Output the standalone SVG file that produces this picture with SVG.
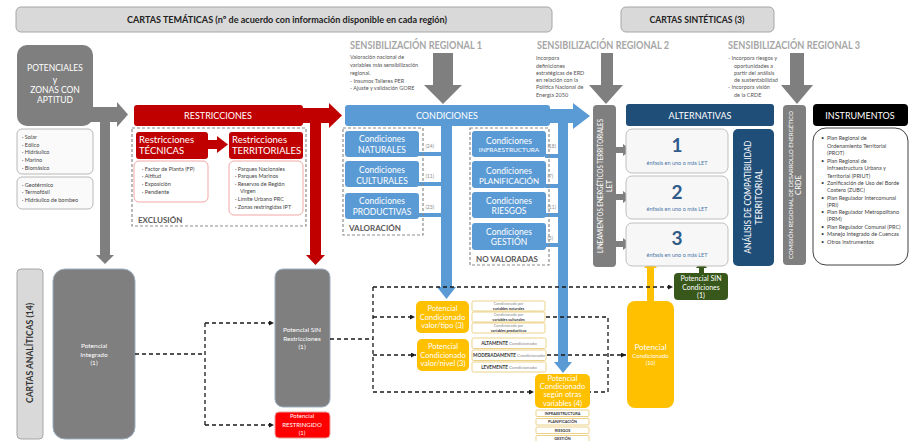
<svg xmlns="http://www.w3.org/2000/svg" width="910" height="441" viewBox="0 0 910 441">
<defs>
<style>
text{font-family:Lato,"Liberation Sans",sans-serif}
.w{fill:#fff}
.c{text-anchor:middle}
.b{font-weight:bold}
.hdr{fill:#d9d9d9;stroke:#a6a6a6;stroke-width:1}
.sens{fill:#a6a6a6;font-weight:bold;font-size:11px}
.note{fill:#555;font-size:5.5px}
.gray{fill:#7f7f7f}
.red{fill:#c00000}
.blue{fill:#5b9bd5}
.dblue{fill:#1f4e79}
.org{fill:#ffc000}
.grn{fill:#38571a}
.lst{fill:#fafafa;stroke:#a6a6a6;stroke-width:0.8}
.rlst{fill:#fff;stroke:#f4a6a6;stroke-width:1}
.olst{fill:#fff;stroke:#e6c56a;stroke-width:0.8}
.li{fill:#444;font-size:5.5px}
.dash{fill:none;stroke:#8c8c8c;stroke-width:1.2;stroke-dasharray:3 2}
.con{fill:none;stroke:#1a1a1a;stroke-width:1.3;stroke-dasharray:4 3}
.lab{fill:#595959;font-weight:bold;font-size:8px}
.cnt{fill:#8c8c8c;font-size:5px}
.alt{fill:#f7f7f7;stroke:#bfbfbf;stroke-width:1}
.num{fill:#2f5b8a;font-weight:bold;font-size:19px;text-anchor:middle}
.enf{fill:#4a76a8;font-size:5.5px;text-anchor:middle}
</style>
<marker id="ah" viewBox="0 0 6 6" refX="6" refY="3" markerWidth="5" markerHeight="5" markerUnits="userSpaceOnUse" orient="auto"><path d="M0,0 L6,3 L0,6 z" fill="#1a1a1a"/></marker>
</defs>
<rect width="910" height="441" fill="#fff"/>

<!-- headers -->
<g id="hdr-tematicas"><rect class="hdr" x="16" y="7" width="536" height="25" rx="5"/><text x="287" y="23" class="c b" font-size="10" textLength="320" lengthAdjust="spacingAndGlyphs" fill="#222">CARTAS TEMÁTICAS (nº de acuerdo con información disponible en cada región)</text></g>
<g id="hdr-sinteticas"><rect class="hdr" x="621" y="7" width="153" height="25" rx="5"/><text x="697" y="23" class="c b" font-size="10" textLength="95" lengthAdjust="spacingAndGlyphs" fill="#222">CARTAS  SINTÉTICAS (3)</text></g>

<!-- sensibilizacion -->
<g id="sens1"><text x="350" y="49" class="sens" textLength="132" lengthAdjust="spacingAndGlyphs">SENSIBILIZACIÓN REGIONAL 1</text>
<text class="note" x="350" y="59">Valoración nacional de</text><text class="note" x="350" y="67">variables más  sensibilización</text><text class="note" x="350" y="75">regional.</text><text class="note" x="350" y="83">-   Insumos Talleres PER</text><text class="note" x="350" y="90">-   Ajuste y validación GORE</text></g>
<g id="sens2"><text x="537" y="49" class="sens" textLength="132" lengthAdjust="spacingAndGlyphs">SENSIBILIZACIÓN REGIONAL 2</text>
<text class="note" x="536" y="60">Incorpora</text><text class="note" x="536" y="68">definiciones</text><text class="note" x="536" y="75">estratégicas de ERD</text><text class="note" x="536" y="82">en relación con la</text><text class="note" x="536" y="89">Política Nacional de</text><text class="note" x="536" y="97">Energía 2050</text></g>
<g id="sens3"><text x="728" y="49" class="sens" textLength="132" lengthAdjust="spacingAndGlyphs">SENSIBILIZACIÓN REGIONAL 3</text>
<text class="note" x="728" y="60">-  Incorpora riesgos y</text><text class="note" x="734" y="68">oportunidades a</text><text class="note" x="734" y="75">partir del análisis</text><text class="note" x="734" y="82">de sustentabilidad</text><text class="note" x="728" y="89">-  Incorpora visión</text><text class="note" x="734" y="97">de la CRDE</text></g>

<!-- block arrows -->
<g id="flows">
<rect class="gray" x="433" y="53" width="20" height="33"/><polygon class="gray" points="424,85 462,85 443,104"/>
<rect class="gray" x="601" y="53" width="12" height="33"/><polygon class="gray" points="589,85 623,85 606,104"/>
<rect class="gray" x="790" y="53" width="14" height="33"/><polygon class="gray" points="781,85 813,85 797,104"/>
<rect class="gray" x="88" y="107" width="30" height="15"/><polygon class="gray" points="117,102 128,114.5 117,127"/>
<rect class="gray" x="100" y="110" width="10" height="146"/><polygon class="gray" points="96,255 114,255 105,264"/>
<rect class="red" x="298" y="108" width="32" height="15"/><polygon class="red" points="329,103 342,115.5 329,128"/>
<rect class="red" x="310" y="112" width="11" height="144"/><polygon class="red" points="306,255 325,255 315.5,265"/>
<rect class="blue" x="545" y="109" width="30" height="14"/><polygon class="blue" points="573,103 590,116 573,129"/>
<rect class="blue" x="441" y="120" width="11" height="168"/><polygon class="blue" points="437,287 456,287 446.5,299"/>
<rect class="blue" x="558" y="116" width="10" height="247"/><polygon class="blue" points="554,362 572,362 563,373"/>
<rect class="blue" x="418" y="152" width="24" height="4"/><rect class="blue" x="418" y="182" width="24" height="4"/><rect class="blue" x="418" y="213" width="24" height="4"/>
<rect class="blue" x="545" y="154" width="14" height="4"/><rect class="blue" x="545" y="184" width="14" height="4"/><rect class="blue" x="545" y="213" width="14" height="4"/><rect class="blue" x="545" y="243" width="14" height="4"/>
<rect class="gray" x="615" y="147" width="9" height="6"/><polygon class="gray" points="623,144 631,150 623,156"/>
<rect class="gray" x="615" y="194" width="9" height="6"/><polygon class="gray" points="623,191 631,197 623,203"/>
<rect class="gray" x="615" y="241" width="9" height="6"/><polygon class="gray" points="623,238 631,244 623,250"/>
<rect class="org" x="647" y="266" width="7" height="36"/><polygon class="org" points="644,268 657,268 650.5,261"/>
<rect class="grn" x="699" y="266" width="5" height="8"/><polygon class="grn" points="696,268 707,268 701.5,261"/>
</g>

<!-- potenciales -->
<g id="potenciales"><rect class="gray" x="17" y="45" width="76" height="81" rx="10"/>
<text class="w c" font-size="8.5" x="55" y="71">POTENCIALES</text><text class="w c" font-size="8.5" x="55" y="83">y</text><text class="w c" font-size="8.5" x="55" y="93">ZONAS CON</text><text class="w c" font-size="8.5" x="55" y="103">APTITUD</text></g>
<g id="lista-renovables"><rect class="lst" x="17" y="129" width="76" height="45" rx="5"/>
<text class="li" x="22" y="139">·   Solar</text><text class="li" x="22" y="147">·   Eólico</text><text class="li" x="22" y="154">·   Hidráulico</text><text class="li" x="22" y="162">·   Marino</text><text class="li" x="22" y="170">·   Biomásico</text></g>
<g id="lista-otros"><rect class="lst" x="17" y="177" width="76" height="32" rx="5"/>
<text class="li" x="22" y="187">·   Geotérmico</text><text class="li" x="22" y="194">·   Termofósil</text><text class="li" x="22" y="202">·   Hidráulico de bombeo</text></g>

<!-- restricciones -->
<g id="restricciones"><rect class="red" x="134" y="105" width="169" height="21" rx="3"/><text class="w c" font-size="9" x="218" y="119">RESTRICCIONES</text></g>
<g id="exclusion"><rect class="dash" x="132" y="128" width="174" height="98"/><text class="lab" x="138" y="223" font-size="8.5">EXCLUSIÓN</text></g>
<g id="restr-tecnicas"><rect class="red" x="136" y="132" width="72" height="27" rx="3"/><text class="w" font-size="9.5" x="139" y="143">Restricciones</text><text class="w" font-size="9.5" x="139" y="154">TÉCNICAS</text>
<rect class="red" x="207" y="140" width="11" height="9"/><polygon class="red" points="217,136 228,144.5 217,153"/></g>
<g id="restr-territoriales"><rect class="red" x="229" y="132" width="74" height="27" rx="3"/><text class="w" font-size="9.5" x="232" y="143">Restricciones</text><text class="w" font-size="9.5" x="232" y="154">TERRITORIALES</text></g>
<g id="lista-tecnicas"><rect class="rlst" x="134" y="161" width="74" height="41" rx="5"/>
<text class="li" x="142" y="171">·   Factor de Planta (FP)</text><text class="li" x="142" y="178">·   Altitud</text><text class="li" x="142" y="186">·   Exposición</text><text class="li" x="142" y="194">·   Pendiente</text></g>
<g id="lista-territoriales"><rect class="rlst" x="229" y="161" width="74" height="54" rx="5"/>
<text class="li" x="235" y="171">·   Parques Nacionales</text><text class="li" x="235" y="178">·   Parques Marinos</text><text class="li" x="235" y="186">·   Reservas de Región</text><text class="li" x="240" y="193">Vírgen</text><text class="li" x="235" y="201">·   Límite Urbano PRC</text><text class="li" x="235" y="209">·   Zonas restringidas IPT</text></g>

<!-- condiciones -->
<g id="condiciones"><rect class="blue" x="345" y="105" width="205" height="21" rx="3"/><text class="w c" font-size="9" x="447" y="119">CONDICIONES</text></g>
<g id="valoracion"><rect class="dash" x="343" y="128" width="80" height="107"/><text class="lab" x="349" y="231">VALORACIÓN</text></g>
<g id="cond-naturales"><rect class="blue" x="345" y="131" width="74" height="26" rx="3"/><text class="w c" font-size="8.5" x="382" y="142">Condiciones</text><text class="w c" font-size="8.5" x="382" y="153">NATURALES</text><text class="cnt" x="425.5" y="148">(24)</text></g>
<g id="cond-culturales"><rect class="blue" x="345" y="161" width="74" height="26" rx="3"/><text class="w c" font-size="8.5" x="382" y="173">Condiciones</text><text class="w c" font-size="8.5" x="382" y="184">CULTURALES</text><text class="cnt" x="425.5" y="178">(11)</text></g>
<g id="cond-productivas"><rect class="blue" x="345" y="193" width="74" height="26" rx="3"/><text class="w c" font-size="8.5" x="382" y="204">Condiciones</text><text class="w c" font-size="8.5" x="382" y="215">PRODUCTIVAS</text><text class="cnt" x="425.5" y="209">(23)</text></g>
<g id="no-valoradas"><rect class="dash" x="470" y="128" width="79" height="137"/><text class="lab" x="476" y="262">NO VALORADAS</text></g>
<g id="cond-infra"><rect class="blue" x="472" y="131" width="74" height="26" rx="3"/><text class="w c" font-size="8.5" x="509" y="144">Condiciones</text><text class="w c" font-size="6.5" x="509" y="152">INFRAESTRUCTURA</text><text class="cnt" x="547.5" y="148">(18)</text></g>
<g id="cond-plan"><rect class="blue" x="472" y="161" width="74" height="27" rx="3"/><text class="w c" font-size="8.5" x="509" y="174">Condiciones</text><text class="w c" font-size="8" x="509" y="184">PLANIFICACIÓN</text><text class="cnt" x="547.5" y="178">(7)</text></g>
<g id="cond-riesgos"><rect class="blue" x="472" y="192" width="74" height="26" rx="3"/><text class="w c" font-size="8.5" x="509" y="204">Condiciones</text><text class="w c" font-size="8.5" x="509" y="214">RIESGOS</text><text class="cnt" x="547.5" y="209">(11)</text></g>
<g id="cond-gestion"><rect class="blue" x="472" y="223" width="74" height="27" rx="3"/><text class="w c" font-size="8.5" x="509" y="235">Condiciones</text><text class="w c" font-size="8.5" x="509" y="245">GESTIÓN</text><text class="cnt" x="547.5" y="240">(5)</text></g>

<!-- LET -->
<g id="let"><rect class="gray" x="593" y="105" width="23" height="162" rx="4"/>
<g transform="translate(604,186) rotate(-90)"><text class="w c" font-size="7" x="0" y="-1" textLength="134" lengthAdjust="spacingAndGlyphs">LINEAMIENTOS ENERGÉTICOS TERRITORIALES</text><text class="w c" font-size="7.5" x="0" y="8">LET</text></g></g>

<!-- alternativas -->
<g id="alternativas"><rect class="dblue" x="626" y="104" width="148" height="22" rx="3"/><text class="w c" font-size="9" x="700" y="119">ALTERNATIVAS</text></g>
<g id="alt-1"><rect class="alt" x="626" y="129" width="102" height="44" rx="6"/><text class="num" x="677" y="152">1</text><text class="enf" x="677" y="165">énfasis en uno o más LET</text></g>
<g id="alt-2"><rect class="alt" x="626" y="176" width="102" height="43" rx="6"/><text class="num" x="677" y="199">2</text><text class="enf" x="677" y="211">énfasis en uno o más LET</text></g>
<g id="alt-3"><rect class="alt" x="626" y="223" width="102" height="43" rx="6"/><text class="num" x="677" y="245">3</text><text class="enf" x="677" y="257">énfasis en uno o más LET</text></g>
<g id="compatibilidad"><rect class="dblue" x="733" y="129" width="41" height="137" rx="5"/>
<g transform="translate(753,197) rotate(-90)"><text class="w c" font-size="9" x="0" y="-2" textLength="113" lengthAdjust="spacingAndGlyphs">ANÁLISIS DE COMPATIBILIDAD</text><text class="w c" font-size="9" x="0" y="9">TERRITORIAL</text></g></g>

<!-- CRDE -->
<g id="crde"><rect class="gray" x="783" y="105" width="23" height="160" rx="4"/>
<g transform="translate(794,185) rotate(-90)"><text class="w c" font-size="6" x="0" y="-1" textLength="148" lengthAdjust="spacingAndGlyphs">COMISIÓN REGIONAL DE DESARROLLO ENERGÉTICO</text><text class="w c" font-size="7.5" x="0" y="7">CRDE</text></g></g>

<!-- instrumentos -->
<g id="instrumentos"><rect x="813" y="104" width="95" height="22" rx="4" fill="#000"/><text class="w c" font-size="9" x="860" y="119">INSTRUMENTOS</text></g>
<g id="lista-instrumentos"><rect x="813" y="128" width="95" height="137" rx="13" fill="#fff" stroke="#404040" stroke-width="1"/>
<g class="li" font-size="5.5">
<text x="821" y="140">•</text><text x="827" y="140">Plan Regional de</text><text x="827" y="147.5">Ordenamiento Territorial</text><text x="827" y="155">(PROT)</text>
<text x="821" y="162.5">•</text><text x="827" y="162.5">Plan Regional de</text><text x="827" y="170">Infraestructura Urbana y</text><text x="827" y="177.5">Territorial (PRIUT)</text>
<text x="821" y="185">•</text><text x="827" y="185">Zonificación de Uso del Borde</text><text x="827" y="192">Costero (ZUBC)</text>
<text x="821" y="199.5">•</text><text x="827" y="199.5">Plan Regulador Intercomunal</text><text x="827" y="206.5">(PRI)</text>
<text x="821" y="214">•</text><text x="827" y="214">Plan Regulador Metropolitano</text><text x="827" y="221">(PRM)</text>
<text x="821" y="228.5">•</text><text x="827" y="228.5">Plan Regulador Comunal (PRC)</text>
<text x="821" y="236">•</text><text x="827" y="236">Manejo Integrado de Cuencas</text>
<text x="821" y="243.5">•</text><text x="827" y="243.5">Otros instrumentos</text>
</g></g>

<!-- analiticas -->
<g id="cartas-analiticas"><rect x="17" y="269" width="26" height="170" rx="4" fill="#d9d9d9" stroke="#a6a6a6"/>
<text transform="translate(33,353) rotate(-90)" class="c b" font-size="9" fill="#333" x="0" y="0" textLength="100" lengthAdjust="spacingAndGlyphs">CARTAS ANALÍTICAS (14)</text></g>
<g id="pot-integrado"><rect x="53" y="269" width="82" height="170" rx="12" fill="#7f7f7f" stroke="#9dafc2"/>
<text class="w c" font-size="6.5" x="94" y="348">Potencial</text><text class="w c" font-size="6.5" x="94" y="356.5">Integrado</text><text class="w c" font-size="6.5" x="94" y="364.5">(1)</text></g>
<g id="pot-sin-restr"><rect x="275" y="269" width="55" height="138" rx="8" fill="#7f7f7f" stroke="#9dafc2"/>
<text class="w c" font-size="6.5" x="302" y="332">Potencial SIN</text><text class="w c" font-size="6.5" x="302" y="341">Restricciones</text><text class="w c" font-size="6.5" x="302" y="349">(1)</text></g>
<g id="pot-restringido"><rect x="275" y="412" width="55" height="26" rx="4" fill="#ff0000" stroke="#e8a0a0"/>
<text class="w c" font-size="6" x="302" y="418">Potencial</text><text class="w c" font-size="6" x="302" y="427">RESTRINGIDO</text><text class="w c" font-size="6" x="302" y="435">(1)</text></g>

<g id="pot-valor-tipo"><rect class="org" x="416" y="301" width="53" height="32" rx="5"/>
<text class="w c" font-size="7.5" x="442.5" y="311">Potencial</text><text class="w c" font-size="7.5" x="442.5" y="319.5">Condicionado</text><text class="w c" font-size="7.5" x="442.5" y="328">valor/tipo (3)</text></g>
<g id="lista-tipo" font-size="3.8">
<rect class="olst" x="472" y="301" width="73" height="10" rx="1.5"/><text class="c" fill="#888" x="508.5" y="305.3">Condicionado por</text><text class="c b" fill="#333" x="508.5" y="309.8">variables naturales</text>
<rect class="olst" x="472" y="312" width="73" height="10" rx="1.5"/><text class="c" fill="#888" x="508.5" y="316.3">Condicionado por</text><text class="c b" fill="#333" x="508.5" y="320.8">variables culturales</text>
<rect class="olst" x="472" y="323" width="73" height="10" rx="1.5"/><text class="c" fill="#888" x="508.5" y="327.3">Condicionado por</text><text class="c b" fill="#333" x="508.5" y="331.8">variables productivas</text></g>
<g id="pot-valor-nivel"><rect class="org" x="417" y="339" width="52" height="32" rx="5"/>
<text class="w c" font-size="7.5" x="443" y="348.5">Potencial</text><text class="w c" font-size="7.5" x="443" y="357.5">Condicionado</text><text class="w c" font-size="7.5" x="443" y="366">valor/nivel (3)</text></g>
<g id="lista-nivel" font-size="4.6">
<rect class="olst" x="472" y="338" width="74" height="10.5" rx="1.5"/><text class="c" x="509" y="345"><tspan class="b" fill="#333">ALTAMENTE</tspan><tspan fill="#888"> Condicionado</tspan></text>
<rect class="olst" x="472" y="350" width="74" height="10.5" rx="1.5"/><text class="c" x="509" y="357"><tspan class="b" fill="#333">MODERADAMENTE</tspan><tspan fill="#888"> Condicionado</tspan></text>
<rect class="olst" x="472" y="362" width="74" height="10" rx="1.5"/><text class="c" x="509" y="368.7"><tspan class="b" fill="#333">LEVEMENTE</tspan><tspan fill="#888"> Condicionado</tspan></text></g>
<g id="pot-otras"><rect class="org" x="535" y="374" width="55" height="34" rx="5"/>
<text class="w c" font-size="7.5" x="562.5" y="380.5">Potencial</text><text class="w c" font-size="7.5" x="562.5" y="388.5">Condicionado</text><text class="w c" font-size="7.5" x="562.5" y="396.5">según otras</text><text class="w c" font-size="7.5" x="562.5" y="405.5">variables (4)</text></g>
<g id="lista-otras" font-size="3.8" font-weight="bold" fill="#333">
<rect class="olst" x="536" y="410" width="53" height="6.5" rx="1"/><text class="c" x="562.5" y="414.8">INFRAESTRUCTURA</text>
<rect class="olst" x="536" y="418.5" width="53" height="6.5" rx="1"/><text class="c" x="562.5" y="423.3">PLANIFICACIÓN</text>
<rect class="olst" x="536" y="427" width="53" height="6.5" rx="1"/><text class="c" x="562.5" y="431.8">RIESGOS</text>
<rect class="olst" x="536" y="435.5" width="53" height="6.5" rx="1"/><text class="c" x="562.5" y="440.3">GESTIÓN</text></g>
<g id="pot-condicionado"><rect class="org" x="627" y="301" width="47" height="107" rx="8"/>
<text class="w c" font-size="8" x="650.5" y="350">Potencial</text><text class="w c" font-size="6" x="650.5" y="357.5">Condicionado</text><text class="w c" font-size="5.5" x="650.5" y="364.5">(10)</text></g>
<g id="pot-sin-cond"><rect class="grn" x="674" y="273" width="54" height="27" rx="4"/>
<text class="w c" font-size="7" x="701" y="281">Potencial SIN</text><text class="w c" font-size="7" x="701" y="289.5">Condiciones</text><text class="w c" font-size="7" x="701" y="297.5">(1)</text></g>

<!-- dashed connectors -->
<g id="connectors">
<path class="con" d="M135,354 H205 M205,323 V425"/>
<path class="con" d="M205,323 H274" marker-end="url(#ah)"/>
<path class="con" d="M205,425 H274" marker-end="url(#ah)"/>
<path class="con" d="M330,339 H373 M373,287 V392"/>
<path class="con" d="M373,287 H673" marker-end="url(#ah)"/>
<path class="con" d="M373,317 H415" marker-end="url(#ah)"/>
<path class="con" d="M373,355 H416" marker-end="url(#ah)"/>
<path class="con" d="M373,392 H534" marker-end="url(#ah)"/>
<path class="con" d="M546,317 H608 V392 H590"/>
<path class="con" d="M547,355 H626" marker-end="url(#ah)"/>
</g>
</svg>
